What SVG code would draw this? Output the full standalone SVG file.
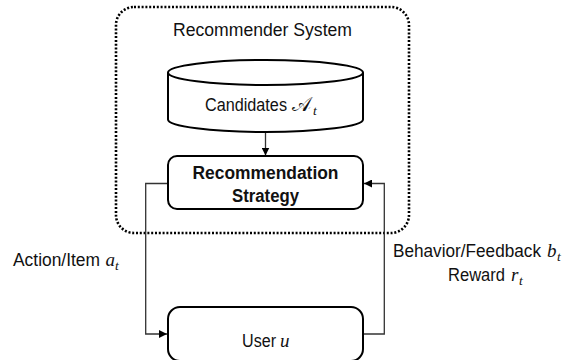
<svg xmlns="http://www.w3.org/2000/svg" width="577" height="360" viewBox="0 0 577 360">
  <style>
    .lbl { font-family: "Liberation Sans", Arial, sans-serif; font-size: 17.5px; fill: #111; }
    .bold { font-weight: bold; }
    .math { font-family: "Liberation Serif", "Times New Roman", serif; font-style: italic; font-size: 19px; fill: #111; }
    .sub { font-family: "Liberation Serif", "Times New Roman", serif; font-style: italic; font-size: 13.5px; fill: #111; }
    .shape { fill: #fff; stroke: #000; stroke-width: 2; }
    .wire { fill: none; stroke: #333; stroke-width: 1.3; }
  </style>
  <defs>
    <marker id="arrow" viewBox="0 0 10 10" refX="10" refY="5" markerWidth="8" markerHeight="8" markerUnits="userSpaceOnUse" orient="auto">
      <path d="M0,0 L10,5 L0,10 z" fill="#000"/>
    </marker>
  </defs>

  <!-- system boundary -->
  <g id="recommender-system">
    <rect x="116" y="7" width="293" height="226" rx="18" fill="none" stroke="#000" stroke-width="2.6" stroke-dasharray="2 1.8"/>
    <text class="lbl" x="173" y="36" textLength="179" lengthAdjust="spacingAndGlyphs">Recommender  System</text>
  </g>

  <!-- connectors -->
  <g id="connectors">
    <line class="wire" x1="265.5" y1="132" x2="265.5" y2="155.5" marker-end="url(#arrow)"/>
    <polyline class="wire" points="168,183.5 145.7,183.5 145.7,334 167,334" marker-end="url(#arrow)"/>
    <polyline class="wire" points="363,334 384.3,334 384.3,183.5 364,183.5" marker-end="url(#arrow)"/>
  </g>

  <!-- candidate pool -->
  <g id="candidates">
    <path class="shape" d="M168,72.5 L168,119.5 A97.5,12.5 0 0 0 363,119.5 L363,72.5"/>
    <ellipse class="shape" cx="265.5" cy="72.5" rx="97.5" ry="12.5"/>
    <text class="lbl" x="205" y="111" textLength="82" lengthAdjust="spacingAndGlyphs">Candidates</text>
    <text x="292" y="111" font-family="'DejaVu Serif', 'DejaVu Sans', serif" font-size="20" fill="#111">𝒜</text>
    <text class="sub" x="313" y="115">t</text>
  </g>

  <!-- strategy -->
  <g id="strategy">
    <rect class="shape" x="168" y="156" width="195" height="53" rx="9"/>
    <text class="lbl bold" x="265.5" y="179" text-anchor="middle" font-size="18" textLength="146" lengthAdjust="spacingAndGlyphs">Recommendation</text>
    <text class="lbl bold" x="265.5" y="202" text-anchor="middle" font-size="18" textLength="67" lengthAdjust="spacingAndGlyphs">Strategy</text>
  </g>

  <!-- user -->
  <g id="user">
    <rect class="shape" x="168" y="307" width="195" height="54" rx="12"/>
    <text class="lbl" x="242" y="347" textLength="34" lengthAdjust="spacingAndGlyphs">User</text>
    <text class="math" x="280" y="347">u</text>
  </g>

  <!-- edge labels -->
  <g id="label-action">
    <text class="lbl" x="13" y="266" textLength="87" lengthAdjust="spacingAndGlyphs">Action/Item</text>
    <text class="math" x="105.5" y="266">a</text>
    <text class="sub" x="115" y="270">t</text>
  </g>
  <g id="label-feedback">
    <text class="lbl" x="393" y="257" textLength="148" lengthAdjust="spacingAndGlyphs">Behavior/Feedback</text>
    <text class="math" x="547" y="257">b</text>
    <text class="sub" x="557" y="261">t</text>
    <text class="lbl" x="448" y="281" textLength="57" lengthAdjust="spacingAndGlyphs">Reward</text>
    <text class="math" x="511" y="281">r</text>
    <text class="sub" x="519" y="285">t</text>
  </g>
</svg>
